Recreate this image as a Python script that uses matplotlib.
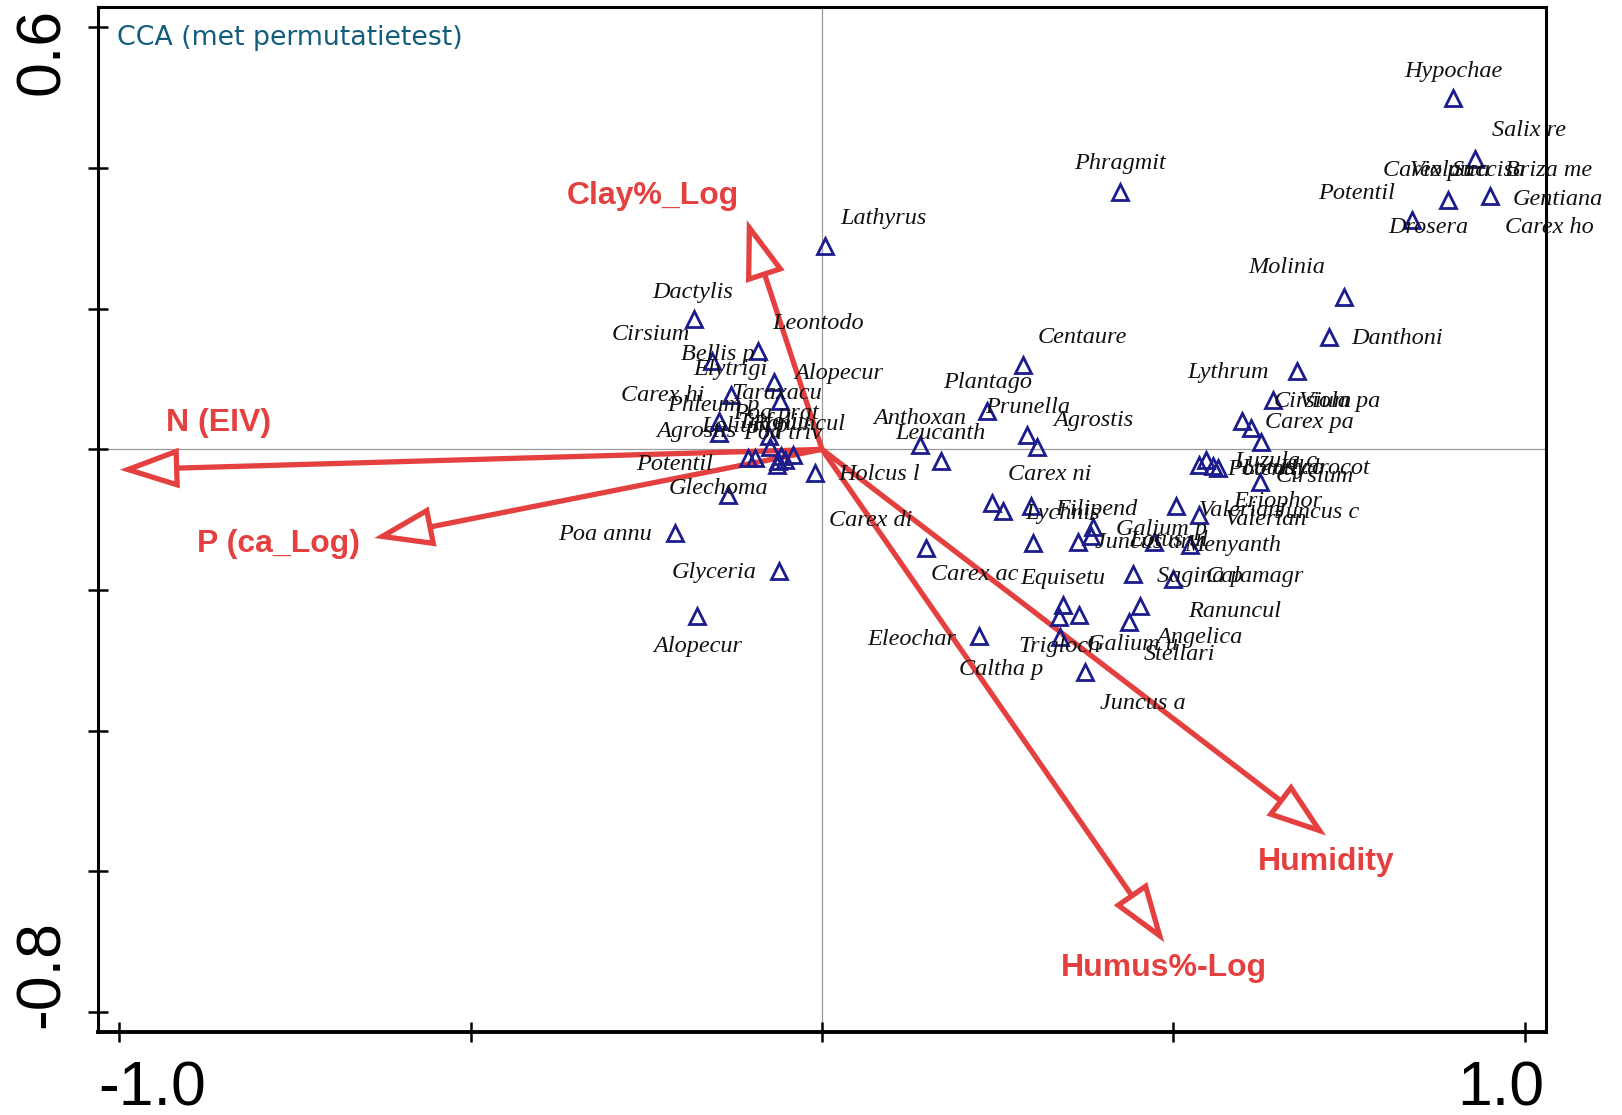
import matplotlib
matplotlib.use('Agg')
import matplotlib.pyplot as plt
from matplotlib.patches import FancyArrowPatch
from matplotlib.transforms import ScaledTranslation

# species scores (CCA axis 1 / axis 2)
sp_x = [0.898, 0.929, 0.890, 0.950, 0.839, 0.424, 0.004, 0.743, 0.721, 0.676,
        0.642, 0.597, 0.611, 0.624, 0.286, 0.235, 0.291, 0.306, 0.140, 0.169,
        -0.010, 0.537, 0.547, 0.556, 0.563, 0.623, 0.504, 0.537, 0.242, 0.258,
        0.298, 0.386, 0.383, 0.364, 0.300, 0.148, 0.473, 0.523, 0.442, 0.499,
        0.343, 0.337, 0.366, 0.453, 0.437, 0.223, 0.338, 0.374,
        -0.182, -0.091, -0.157, -0.068, -0.130, -0.060, -0.147, -0.146, -0.074,
        -0.105, -0.096, -0.063, -0.058, -0.053, -0.041, -0.064, -0.134, -0.209,
        -0.061, -0.178, -0.075]
sp_y = [0.499, 0.413, 0.355, 0.360, 0.326, 0.366, 0.289, 0.217, 0.160, 0.111,
        0.070, 0.041, 0.031, 0.010, 0.120, 0.054, 0.021, 0.003, 0.006, -0.017,
        -0.034, -0.022, -0.015, -0.024, -0.027, -0.046, -0.081, -0.094, -0.076, -0.088,
        -0.081, -0.110, -0.123, -0.131, -0.133, -0.140, -0.131, -0.136, -0.177, -0.185,
        -0.221, -0.238, -0.235, -0.222, -0.245, -0.266, -0.267, -0.317,
        0.185, 0.140, 0.125, 0.096, 0.078, 0.069, 0.040, 0.023, 0.004,
        -0.012, -0.012, -0.017, -0.010, -0.015, -0.008, -0.022, -0.065, -0.119,
        -0.173, -0.237, 0.019]

# species names, placed by the label optimiser
sp_names = ['Hypochae', 'Salix re', 'Carex pu', 'Viola ca', 'Succisa', 'Briza me',
            'Potentil', 'Gentiana', 'Drosera', 'Carex ho', 'Phragmit', 'Lathyrus',
            'Molinia', 'Danthoni', 'Centaure', 'Lythrum', 'Plantago', 'Prunella',
            'Anthoxan', 'Agrostis', 'Leucanth', 'Carex ni', 'Holcus l', 'Cirsium',
            'Viola pa', 'Carex pa', 'Luzula c', 'Potentil', 'Lotus co', 'Hydrocot',
            'Cirsium', 'Eriophor', 'Valerian', 'Juncus c', 'Valerian', 'Filipend',
            'Lychnis', 'Galium p', 'Juncus ar', 'Lotus ul', 'Menyanth', 'Carex di',
            'Carex ac', 'Equisetu', 'Sagina p', 'Calamagr', 'Ranuncul', 'Eleochar',
            'Trigloch', 'Galium u', 'Angelica', 'Stellari', 'Caltha p', 'Juncus a',
            'Dactylis', 'Cirsium', 'Leontodo', 'Bellis p', 'Elytrigi', 'Alopecur',
            'Carex hi', 'Taraxacu', 'Phleum p', 'Poa prat', 'Agrostis', 'Lolium p',
            'Trifoliu', 'Ranuncul', 'Poa triv', 'Potentil', 'Glechoma', 'Poa annu',
            'Glyceria', 'Alopecur']
sp_lab_x = [0.898, 1.006, 0.862, 0.893, 0.948, 1.034, 0.761, 1.047, 0.862, 1.035,
            0.424, 0.088, 0.661, 0.818, 0.371, 0.578, 0.236, 0.293, 0.139, 0.386,
            0.168, 0.324, 0.081, 0.698, 0.736, 0.694, 0.645, 0.631, 0.655, 0.715,
            0.701, 0.649, 0.594, 0.705, 0.632, 0.390, 0.343, 0.483, 0.456, 0.494,
            0.585, 0.069, 0.217, 0.343, 0.537, 0.616, 0.587, 0.127, 0.338, 0.442,
            0.537, 0.509, 0.255, 0.457,
            -0.184, -0.243, -0.006, -0.148, -0.130, 0.024, -0.227, -0.065, -0.155,
            -0.065, -0.178, -0.110, -0.069, -0.034, -0.056, -0.210, -0.148, -0.309,
            -0.154, -0.177]
sp_lab_y = [0.537, 0.453, 0.397, 0.397, 0.397, 0.397, 0.364, 0.355, 0.315, 0.315,
            0.406, 0.329, 0.258, 0.157, 0.159, 0.109, 0.095, 0.059, 0.044, 0.041,
            0.023, -0.036, -0.036, 0.068, 0.068, 0.038, -0.017, -0.028, -0.027, -0.027,
            -0.039, -0.074, -0.087, -0.090, -0.099, -0.086, -0.091, -0.114, -0.133, -0.129,
            -0.136, -0.101, -0.178, -0.183, -0.181, -0.181, -0.230, -0.270, -0.280, -0.278,
            -0.268, -0.291, -0.313, -0.361,
            0.223, 0.164, 0.179, 0.135, 0.113, 0.108, 0.076, 0.079, 0.062,
            0.051, 0.025, 0.032, 0.038, 0.035, 0.023, -0.022, -0.055, -0.121,
            -0.175, -0.280]

# environmental variables (biplot arrows)
env_names = ['N (EIV)', 'P (ca_Log)', 'Clay%_Log', 'Humidity', 'Humus%-Log']
env_x = [-0.999, -0.637, -0.107, 0.717, 0.487]
env_y = [-0.029, -0.126, 0.326, -0.549, -0.701]
env_lab_x = [-0.859, -0.773, -0.241, 0.717, 0.487]
env_lab_y = [0.037, -0.134, 0.360, -0.587, -0.738]

red = '#e4403f'
navy = '#1c1c8c'

fig = plt.figure(figsize=(16.22, 11.15), dpi=100)
ax = fig.add_axes([0.0605, 0.0744, 0.8926, 0.9193])
ax.set_xlim(-1.03, 1.03)
ax.set_ylim(-0.8285, 0.629)

ax.axhline(0, color='#9a9a9a', lw=0.9, zorder=1)
ax.axvline(0, color='#9a9a9a', lw=0.9, zorder=1)

for i in range(len(env_names)):
    arr = FancyArrowPatch((0, 0), (env_x[i], env_y[i]),
                          arrowstyle='-|>,head_length=35,head_width=12',
                          mutation_scale=1, shrinkA=0, shrinkB=0,
                          lw=3.8, ec=red, fc='white', joinstyle='miter', zorder=2)
    ax.add_patch(arr)
    ax.text(env_lab_x[i], env_lab_y[i], env_names[i], color=red,
            family='Liberation Sans', weight='bold', fontsize=23,
            ha='center', va='center', zorder=6)

ax.plot(sp_x, sp_y, ls='none', marker='^', ms=12, mfc='none',
        mec=navy, mew=2, zorder=3)

for i in range(len(sp_names)):
    ax.text(sp_lab_x[i], sp_lab_y[i], sp_names[i], family='Liberation Serif',
            style='italic', fontsize=17.5, color='#111111',
            ha='center', va='center', zorder=4)

ax.text(0.013, 0.963, 'CCA (met permutatietest)', transform=ax.transAxes,
        family='DejaVu Sans', fontsize=19.3, color='#135d7c', va='baseline')

# frame and ticks
for s in ax.spines.values():
    s.set_linewidth(2.2)
ax.spines['bottom'].set_linewidth(2.8)

ax.set_xticks([-1.0, -0.5, 0.0, 0.5, 1.0])
ax.set_xticklabels(['-1.0', '', '', '', '1.0'])
ax.set_yticks([-0.8, -0.6, -0.4, -0.2, 0.0, 0.2, 0.4, 0.6])
ax.set_yticklabels(['-0.8', '', '', '', '', '', '', '0.6'], rotation=90, va='center')
ax.tick_params(direction='inout', length=14, width=1.8, color='black')
ax.tick_params(axis='x', pad=13)
ax.tick_params(axis='y', pad=12)
for lab in ax.get_xticklabels() + ax.get_yticklabels():
    lab.set_family('Liberation Sans')
    lab.set_fontsize(45)

xl = ax.get_xticklabels()
xl[0].set_ha('left')
xl[0].set_transform(xl[0].get_transform() + ScaledTranslation(-0.21, 0, fig.dpi_scale_trans))
xl[4].set_ha('right')
xl[4].set_transform(xl[4].get_transform() + ScaledTranslation(0.2, 0, fig.dpi_scale_trans))
yl = ax.get_yticklabels()
yl[0].set_transform(yl[0].get_transform() + ScaledTranslation(0, 0.38, fig.dpi_scale_trans))
yl[7].set_transform(yl[7].get_transform() + ScaledTranslation(0, -0.24, fig.dpi_scale_trans))

fig.savefig('out.png', dpi=100)
